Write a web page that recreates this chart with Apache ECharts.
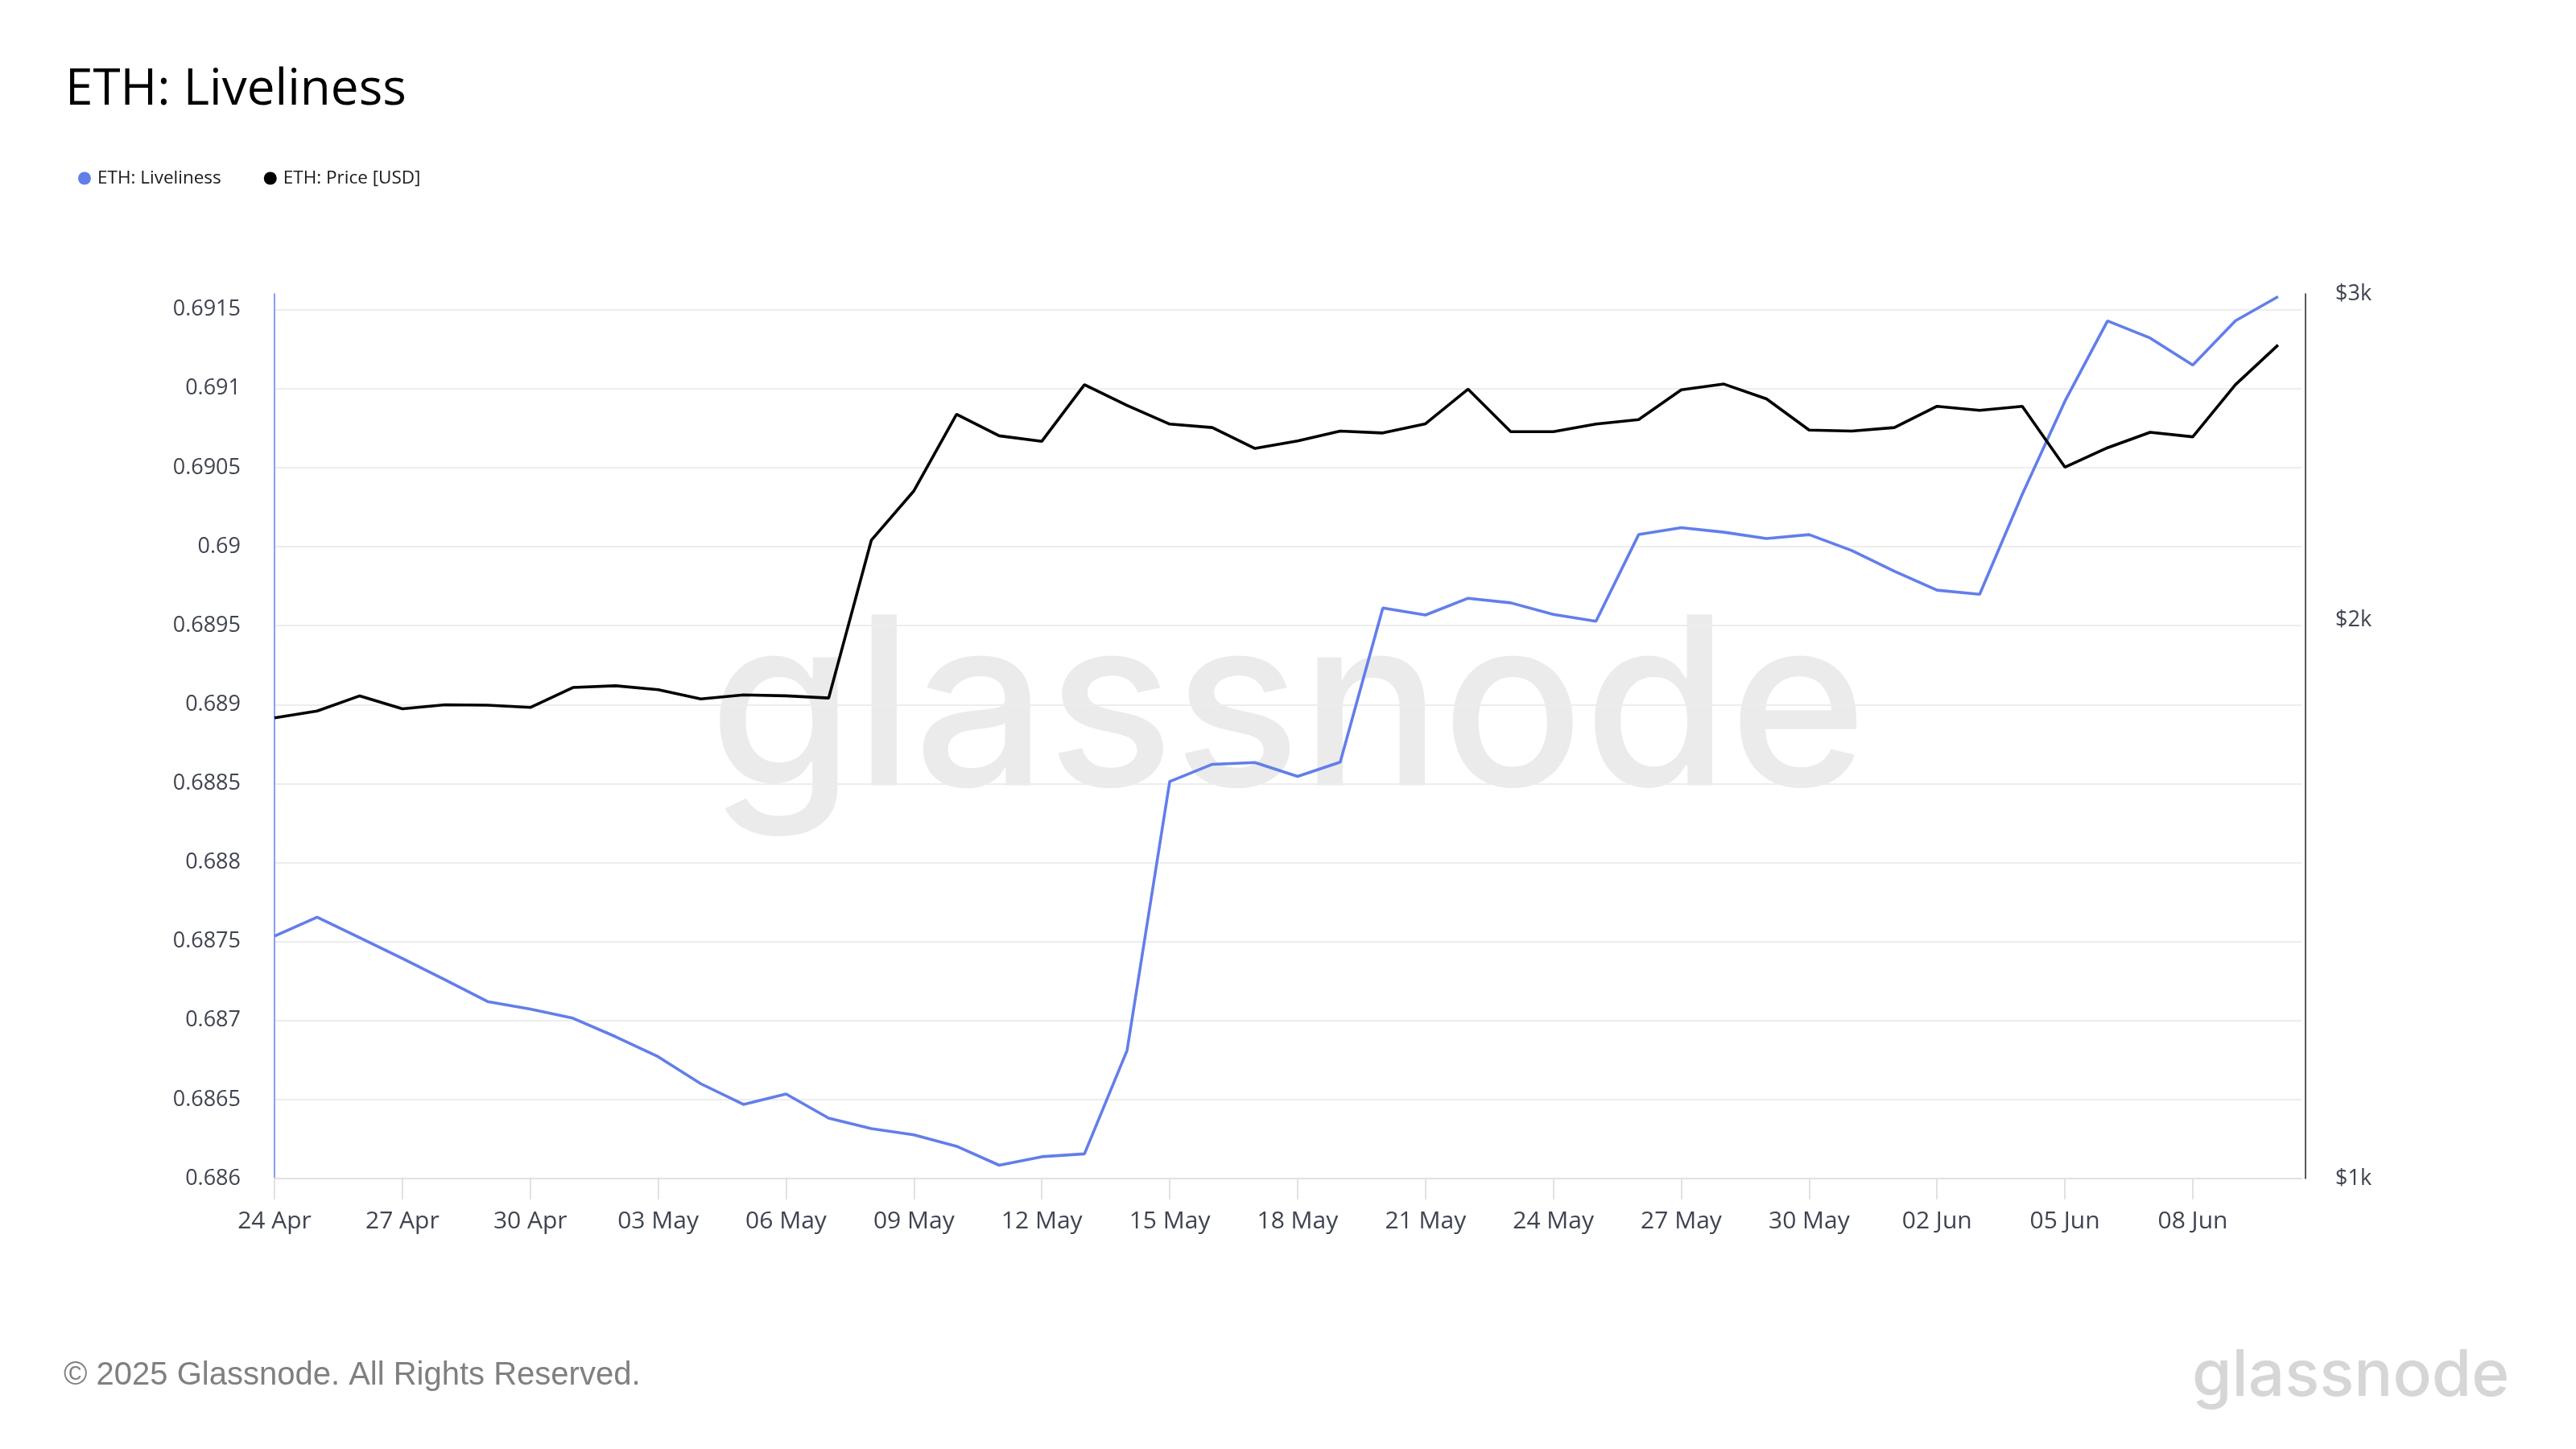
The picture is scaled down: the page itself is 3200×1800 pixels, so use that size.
<!DOCTYPE html>
<html>
<head>
<meta charset="utf-8">
<script src="https://cdn.jsdelivr.net/npm/echarts@6/dist/echarts.min.js"></script>
<style>
html,body{margin:0;padding:0;background:#fff;}
#chart{width:3200px;height:1800px;}
</style>
</head>
<body>
<div id="chart"></div>
<script>
const dates = [
  '24 Apr','25 Apr','26 Apr','27 Apr','28 Apr','29 Apr','30 Apr',
  '01 May','02 May','03 May','04 May','05 May','06 May','07 May','08 May','09 May','10 May',
  '11 May','12 May','13 May','14 May','15 May','16 May','17 May','18 May','19 May','20 May',
  '21 May','22 May','23 May','24 May','25 May','26 May','27 May','28 May','29 May','30 May','31 May',
  '01 Jun','02 Jun','03 Jun','04 Jun','05 Jun','06 Jun','07 Jun','08 Jun','09 Jun','10 Jun'
];
const liveliness = [
  0.687534, 0.687654, 0.687524, 0.687393, 0.687258, 0.687120, 0.687073, 0.687015,
  0.686898, 0.686771, 0.686600, 0.686469, 0.686535, 0.686382, 0.686316, 0.686276,
  0.686204, 0.686084, 0.686138, 0.686156, 0.686811, 0.688513, 0.688622, 0.688633,
  0.688545, 0.688636, 0.689611, 0.689567, 0.689673, 0.689644, 0.689571, 0.689527,
  0.690076, 0.690120, 0.690091, 0.690051, 0.690076, 0.689975, 0.689844, 0.689724,
  0.689698, 0.690331, 0.690920, 0.691429, 0.691320, 0.691149, 0.691429, 0.691582
];
const priceUsd = [
  1772, 1787, 1821, 1792, 1801, 1800, 1795, 1840, 1844, 1835, 1814, 1823,
  1821, 1816, 2209, 2349, 2583, 2515, 2498, 2680, 2612, 2552, 2541, 2476,
  2499, 2530, 2524, 2553, 2665, 2528, 2528, 2552, 2566, 2663, 2682, 2633,
  2533, 2530, 2541, 2609, 2596, 2609, 2419, 2478, 2526, 2512, 2680, 2815
];
const xTickLabels = ['24 Apr','27 Apr','30 Apr','03 May','06 May','09 May','12 May','15 May',
  '18 May','21 May','24 May','27 May','30 May','02 Jun','05 Jun','08 Jun'];
const livelinessTicks = [0.686,0.6865,0.687,0.6875,0.688,0.6885,0.689,0.6895,0.69,0.6905,0.691,0.6915];
const priceTicks = [1000, 2000, 3000];

const xTickIdx = xTickLabels.map(l => dates.indexOf(l));
const labelColor = '#3f4450';

const chart = echarts.init(document.getElementById('chart'), null, {renderer: 'canvas', width: 3200, height: 1800});
chart.setOption({
  animation: false,
  backgroundColor: '#ffffff',
  title: {
    text: 'ETH: Liveliness',
    left: 76, top: 76,
    textStyle: {fontSize: 62, fontWeight: 'normal', fontFamily: 'Open Sans', color: '#000'}
  },
  legend: {
    left: 92, top: 205,
    icon: 'circle', itemWidth: 22, itemHeight: 16, itemGap: 53,
    textStyle: {fontSize: 22.5, fontFamily: 'Open Sans', color: '#1a1a1a'},
    data: ['ETH: Liveliness', 'ETH: Price [USD]']
  },
  grid: {left: 341, right: 341, top: 365, bottom: 336, containLabel: false},
  xAxis: {
    type: 'value', min: 0, max: 47.55,
    axisLine: {onZero: false, lineStyle: {color: '#e2e2e2', width: 2}},
    axisTick: {show: true, length: 26, customValues: xTickIdx, lineStyle: {color: '#e2e2e2', width: 2}},
    axisLabel: {
      customValues: xTickIdx, margin: 38, fontSize: 30, fontFamily: 'Open Sans', color: labelColor,
      formatter: v => dates[Math.round(v)] || ''
    },
    splitLine: {show: false}
  },
  yAxis: [{
    type: 'value', position: 'left', offset: 5,
    min: 0.686, max: 0.6916, interval: 0.0005,
    axisLine: {show: true, lineStyle: {color: '#627EEA', width: 1.5}},
    axisTick: {show: false},
    axisLabel: {
      customValues: livelinessTicks, margin: 37, fontSize: 27, fontFamily: 'Open Sans', color: labelColor,
      formatter: v => String(+(+v).toFixed(4))
    },
    splitLine: {show: true, showMaxLine: false, lineStyle: {color: '#ededed', width: 2}}
  }, {
    type: 'log', logBase: 10, position: 'right', offset: 5,
    min: 1000, max: 3000,
    axisLine: {show: true, lineStyle: {color: '#222222', width: 1.5}},
    axisTick: {show: false},
    axisLabel: {
      customValues: priceTicks, margin: 37, fontSize: 27, fontFamily: 'Open Sans', color: labelColor,
      formatter: v => '$' + Math.round(v / 1000) + 'k'
    },
    splitLine: {show: false}
  }],
  graphic: [
    {type: 'text', x: 1600, y: 888, z: -10, silent: true,
     style: {text: 'glassnode', fontSize: 292, fontWeight: 500, fontFamily: 'Inter', fill: '#ebebeb', align: 'center', verticalAlign: 'middle'}},
    {type: 'text', x: 2723, y: 1710, silent: true,
     style: {text: 'glassnode', fontSize: 80, fontWeight: 500, fontFamily: 'Inter', fill: '#d6d6d6', align: 'left', verticalAlign: 'middle'}},
    {type: 'text', x: 79, y: 1709, silent: true,
     style: {text: '© 2025 Glassnode. All Rights Reserved.', fontSize: 40, fontFamily: 'Liberation Sans', fill: '#808080', align: 'left', verticalAlign: 'middle'}}
  ],
  series: [{
    name: 'ETH: Liveliness', type: 'line', yAxisIndex: 0, symbol: 'none',
    color: '#627EEA', lineStyle: {width: 3.6, color: '#627EEA'},
    data: liveliness.map((v, i) => [i, v])
  }, {
    name: 'ETH: Price [USD]', type: 'line', yAxisIndex: 1, symbol: 'none',
    color: '#000000', lineStyle: {width: 3.6, color: '#000000'},
    data: priceUsd.map((v, i) => [i, v])
  }]
});
</script>
</body>
</html>
